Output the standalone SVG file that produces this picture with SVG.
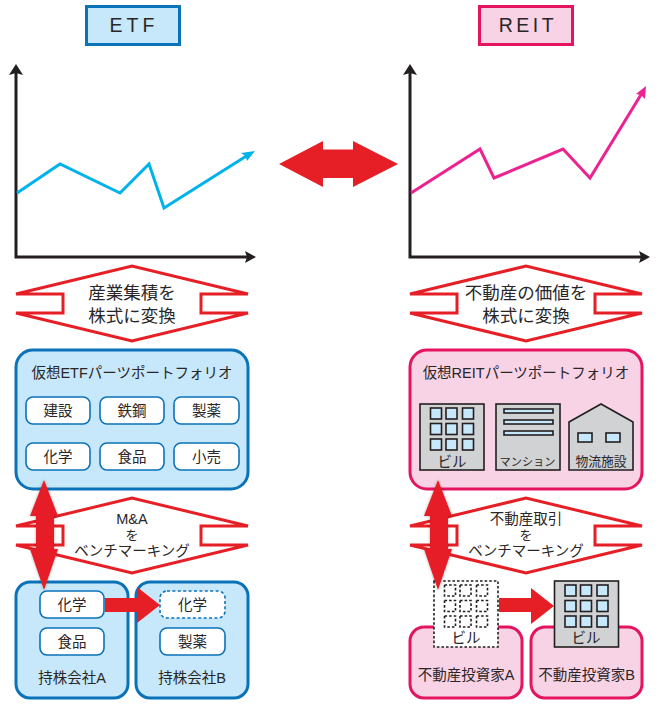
<svg xmlns="http://www.w3.org/2000/svg" xmlns:xlink="http://www.w3.org/1999/xlink" width="660" height="704" viewBox="0 0 660 704">
<style>
text{font-family:"Liberation Sans","Noto Sans CJK JP",sans-serif;fill:#2a2627;text-anchor:middle;font-size:14.5px}
.head{font-size:19.5px;letter-spacing:4px}
.big{font-size:17.500px}
.wo{font-size:13px}
.bp{fill:#c7e8fa;stroke:#0a72b9;stroke-width:3}
.rp{fill:#f7d3e5;stroke:#e5145f;stroke-width:3}
.btn{fill:#fff;stroke:#0a72b9;stroke-width:1.6}
.dash{stroke-dasharray:3 2.4}
.hollow{fill:#fff;stroke:#e61f26;stroke-width:3;stroke-miterlimit:4}
.red{fill:#e61f26}
.ax{fill:none;stroke:#231f20;stroke-width:3}
.axh{fill:#231f20}
.bld{fill:#d1d2d4;stroke:#231f20;stroke-width:1.6}
.win{fill:#c7e8fa;stroke:#231f20;stroke-width:1.6}
.dbld{fill:#fff;stroke:#231f20;stroke-width:1.6;stroke-dasharray:2.6 2}
.dwin{fill:#fff;stroke:#231f20;stroke-width:1.6;stroke-dasharray:2.6 2}
</style>
<defs>
<filter id="sh" x="-30%" y="-10%" width="160%" height="120%"><feGaussianBlur in="SourceAlpha" stdDeviation="1.5"/><feOffset dx="0" dy="0"/><feComponentTransfer><feFuncA type="linear" slope="0.35"/></feComponentTransfer><feMerge><feMergeNode/><feMergeNode in="SourceGraphic"/></feMerge></filter>
<polygon id="hollow" class="hollow" points="0,28 116,0 232,28 185,28 185,47 232,47 116,75 0,47 47,47 47,28"/>
<g id="windows">
<rect class="win" x="10.5" y="4" width="11" height="11"/><rect class="win" x="26" y="4" width="11" height="11"/><rect class="win" x="42.5" y="4" width="11" height="11"/>
<rect class="win" x="10.5" y="19.5" width="11" height="11"/><rect class="win" x="26" y="19.5" width="11" height="11"/><rect class="win" x="42.5" y="19.5" width="11" height="11"/>
<rect class="win" x="10.5" y="35" width="11" height="11"/><rect class="win" x="26" y="35" width="11" height="11"/><rect class="win" x="42.5" y="35" width="11" height="11"/>
</g>
<g id="dwindows">
<rect class="dwin" x="10.5" y="4" width="11" height="11"/><rect class="dwin" x="26" y="4" width="11" height="11"/><rect class="dwin" x="42.5" y="4" width="11" height="11"/>
<rect class="dwin" x="10.5" y="19.5" width="11" height="11"/><rect class="dwin" x="26" y="19.5" width="11" height="11"/><rect class="dwin" x="42.5" y="19.5" width="11" height="11"/>
<rect class="dwin" x="10.5" y="35" width="11" height="11"/><rect class="dwin" x="26" y="35" width="11" height="11"/><rect class="dwin" x="42.5" y="35" width="11" height="11"/>
</g>
</defs>
<rect width="660" height="704" fill="#fff"/>

<g id="etf-title"><rect class="bp" x="86.500" y="6.500" width="93" height="38"/><text class="head" x="134" y="32">ETF</text></g>
<g id="reit-title"><rect class="rp" x="479.500" y="6.500" width="93" height="38"/><text class="head" x="528" y="32" style="letter-spacing:3.500px">REIT</text></g>

<g id="etf-chart">
<path class="ax" d="M16 70V257H250"/>
<polygon class="axh" points="16,64 23,75 16,73 9,75"/><polygon class="axh" points="256,257 245,251 247,257 245,263"/>
<polyline fill="none" stroke="#00b2ec" stroke-width="3" points="17,193 60,164 120,193 149,164 164,208 248,155"/>
<polygon fill="#00b2ec" points="255,151 247,161 245.500,156 241,153"/>
</g>
<g id="reit-chart">
<path class="ax" d="M410 70V257H644"/>
<polygon class="axh" points="410,64 417,75 410,73 403,75"/><polygon class="axh" points="650,257 639,251 641,257 639,263"/>
<polyline fill="none" stroke="#ec2290" stroke-width="3" points="411,193 480,149 494,178 563,149 590,178 642,93"/>
<polygon fill="#ec2290" points="646,86 645,99 641,95 636,94"/>
</g>

<g id="etf-convert"><use xlink:href="#hollow" x="16" y="266"/><text class="big" x="132" y="299">産業集積を</text><text class="big" x="132" y="322">株式に変換</text></g>
<g id="reit-convert"><use xlink:href="#hollow" x="410" y="266"/><text class="big" x="526" y="299">不動産の価値を</text><text class="big" x="526" y="322">株式に変換</text></g>

<g id="etf-portfolio">
<rect class="bp" x="16" y="350" width="232" height="139" rx="17"/>
<text x="132" y="378">仮想ETFパーツポートフォリオ</text>
<rect class="btn" x="26" y="397" width="64" height="27" rx="7"/><text x="58" y="416">建設</text>
<rect class="btn" x="100" y="397" width="64" height="27" rx="7"/><text x="132" y="416">鉄鋼</text>
<rect class="btn" x="174" y="397" width="65" height="27" rx="7"/><text x="206.500" y="416">製薬</text>
<rect class="btn" x="26" y="443" width="64" height="27" rx="7"/><text x="58" y="462">化学</text>
<rect class="btn" x="100" y="443" width="64" height="27" rx="7"/><text x="132" y="462">食品</text>
<rect class="btn" x="174" y="443" width="65" height="27" rx="7"/><text x="206.500" y="462">小売</text>
</g>

<g id="reit-portfolio">
<rect class="rp" x="410" y="350" width="232" height="139" rx="17"/>
<text x="526" y="378">仮想REITパーツポートフォリオ</text>
<g id="building-1"><rect class="bld" x="420" y="404" width="64" height="66"/><use xlink:href="#windows" x="420" y="404"/><text x="452" y="467">ビル</text></g>
<g id="mansion"><rect class="bld" x="496" y="404" width="64" height="66"/>
<rect class="win" x="504" y="409" width="49" height="4"/><rect class="win" x="504" y="420" width="49" height="4"/><rect class="win" x="504" y="431" width="49" height="4"/>
<text x="527.500" y="466" style="font-size:11.200px">マンション</text></g>
<g id="warehouse"><polygon class="bld" points="569,422 601,404 633,422 633,470 569,470"/>
<rect class="win" x="578" y="433" width="14" height="9"/><rect class="win" x="606" y="433" width="14" height="9"/>
<text x="601" y="466" style="font-size:12.800px">物流施設</text></g>
</g>

<g id="etf-benchmark"><use xlink:href="#hollow" x="16" y="498"/><text x="132" y="524">M&amp;A</text><text class="wo" x="132" y="539.500">を</text><text x="132" y="555.500">ベンチマーキング</text></g>
<g id="reit-benchmark"><use xlink:href="#hollow" x="410" y="498"/><text x="526" y="524">不動産取引</text><text class="wo" x="526" y="539.500">を</text><text x="526" y="555.500">ベンチマーキング</text></g>

<g id="company-a">
<rect class="bp" x="16" y="582" width="112" height="116" rx="14"/>
<rect class="btn" x="40" y="591" width="64" height="27" rx="7"/><text x="72" y="610">化学</text>
<rect class="btn" x="40" y="628" width="64" height="27" rx="7"/><text x="72" y="647">食品</text>
<text x="72" y="683">持株会社A</text>
</g>
<g id="company-b">
<rect class="bp" x="136" y="582" width="112" height="116" rx="14"/>
<rect class="btn dash" x="160" y="591" width="65" height="27" rx="7"/><text x="192.500" y="610">化学</text>
<rect class="btn" x="160" y="628" width="65" height="27" rx="7"/><text x="192.500" y="647">製薬</text>
<text x="192" y="683">持株会社B</text>
</g>
<g id="investor-a">
<rect class="rp" x="410" y="627" width="112" height="71" rx="14"/>
<text x="466" y="680">不動産投資家A</text>
</g>
<g id="investor-b">
<rect class="rp" x="531" y="627" width="111" height="71" rx="14"/>
<text x="586.500" y="680">不動産投資家B</text>
</g>
<g id="building-dashed"><rect class="dbld" x="434" y="581" width="64" height="66"/><use xlink:href="#dwindows" x="434" y="581"/><text x="466" y="643">ビル</text></g>
<g id="building-solid"><rect class="bld" x="554.500" y="581" width="64" height="66"/><use xlink:href="#windows" x="554.500" y="581"/><text x="586" y="643">ビル</text></g>

<g id="connectors">
<polygon class="red" points="279,164 323,141 323,149.500 353,149.500 353,141 398,164 353,187 353,178 323,178 323,187"/>
<polygon class="red" filter="url(#sh)" points="44,480 58,516 54,516 54,549 58,549 44,590 30,549 36,549 36,516 30,516"/>
<polygon class="red" filter="url(#sh)" points="438,480 452,516 448,516 448,549 452,549 438,590 424,549 430,549 430,516 424,516"/>
<polygon class="red" points="105,598 137,598 137,587 160,605 137,623 137,612 105,612"/>
<polygon class="red" points="499,598 531,598 531,588 554,606 531,624 531,612 499,612"/>
</g>
</svg>
